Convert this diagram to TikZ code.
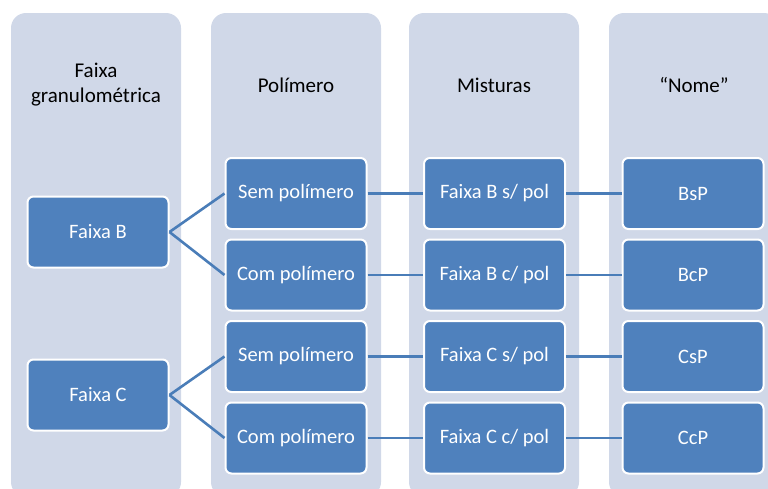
\documentclass[tikz,border=0pt]{standalone}
\usepackage{fontspec}
\setmainfont{Carlito}
\definecolor{panelc}{HTML}{D0D8E8}
\definecolor{boxc}{HTML}{4F81BD}
\definecolor{linec}{HTML}{4A7DB8}
\begin{document}
\begin{tikzpicture}[x=1pt,y=-1pt,
  panel/.style={fill=panelc, draw=none, rounded corners=15pt, minimum width=170pt, minimum height=484pt, inner sep=0pt},
  title/.style={font=\fontsize{21}{25}\selectfont, text=black, align=center},
  box/.style={fill=boxc, draw=white, line width=2pt, rounded corners=6pt, minimum width=141pt, minimum height=71pt, inner sep=0pt, text=white, font=\fontsize{20.5}{24}\selectfont},
  conn/.style={draw=linec, line width=2.6pt}]
\useasboundingbox (0,0) rectangle (768,488);
\clip (0,0) rectangle (768,488);
% panels
\node[panel] (p1) at (96,255) {};
\node[panel] (p2) at (296,255) {};
\node[panel] (p3) at (494,255) {};
\node[panel] (p4) at (694,255) {};
% titles
\node[title] (t1) at (96,85) {Faixa\\granulométrica};
\node[title] (t2) at (296,85) {Polímero};
\node[title] (t3) at (494,85) {Misturas};
\node[title] (t4) at (694,85) {“Nome”};
% column 1
\node[box] (fb) at (98,232) {Faixa B};
\node[box] (fc) at (98,395) {Faixa C};
% column 2
\node[box] (s1) at (296,193.5) {Sem polímero};
\node[box] (c1) at (296,275) {Com polímero};
\node[box] (s2) at (296,356.5) {Sem polímero};
\node[box] (c2) at (296,438) {Com polímero};
% column 3
\node[box] (m1) at (494.5,193.5) {Faixa B s/ pol};
\node[box] (m2) at (494.5,275) {Faixa B c/ pol};
\node[box] (m3) at (494.5,356.5) {Faixa C s/ pol};
\node[box] (m4) at (494.5,438) {Faixa C c/ pol};
% column 4
\node[box] (n1) at (693,193.5) {BsP};
\node[box] (n2) at (693,275) {BcP};
\node[box] (n3) at (693,356.5) {CsP};
\node[box] (n4) at (693,438) {CcP};
% connectors
\draw[conn] (fb.east) -- (s1.west);
\draw[conn] (fb.east) -- (c1.west);
\draw[conn] (fc.east) -- (s2.west);
\draw[conn] (fc.east) -- (c2.west);
\draw[conn] (s1.east) -- (m1.west);
\draw[conn] (c1.east) -- (m2.west);
\draw[conn] (s2.east) -- (m3.west);
\draw[conn] (c2.east) -- (m4.west);
\draw[conn] (m1.east) -- (n1.west);
\draw[conn] (m2.east) -- (n2.west);
\draw[conn] (m3.east) -- (n3.west);
\draw[conn] (m4.east) -- (n4.west);
\end{tikzpicture}
\end{document}
